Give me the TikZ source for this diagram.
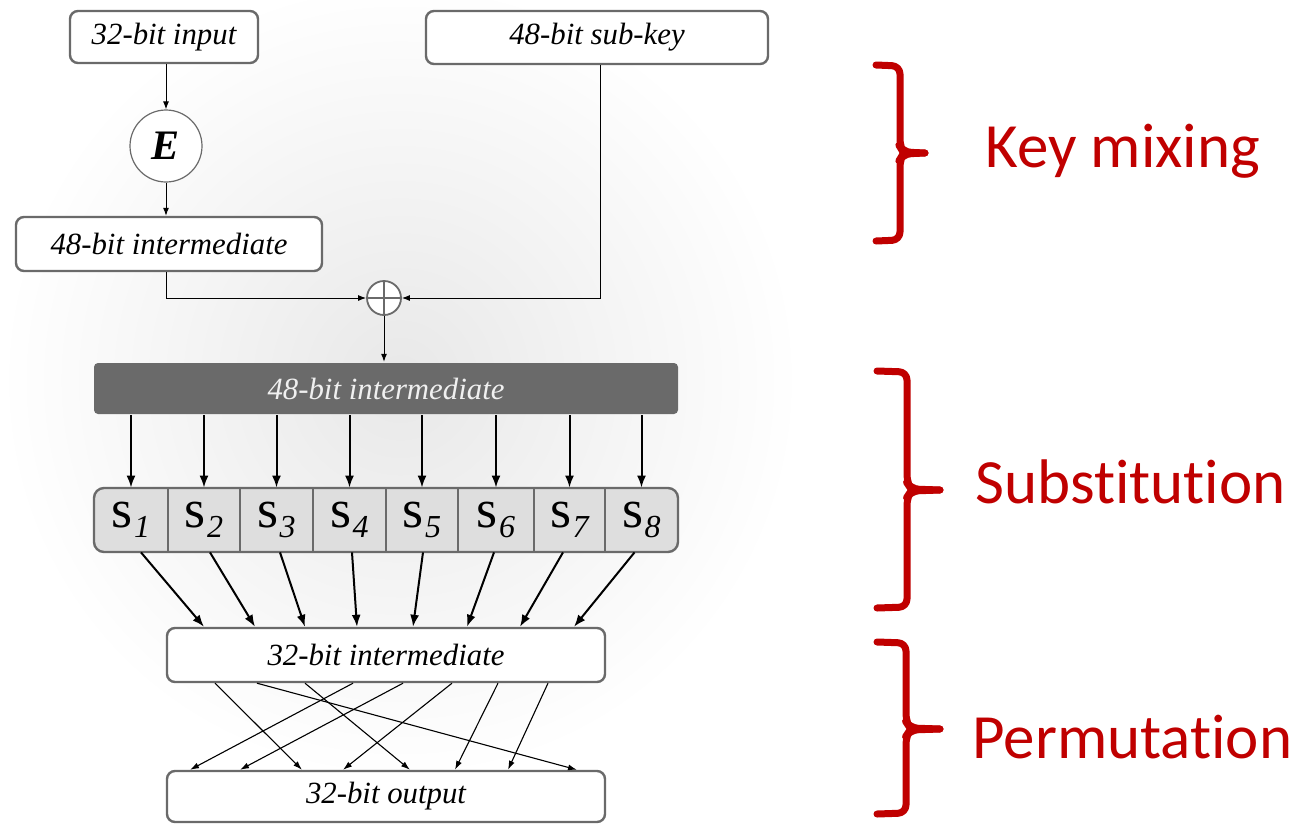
\documentclass[tikz,border=0pt]{standalone}
\usepackage{fontspec}
\setmainfont{Liberation Serif}
\newfontfamily\calfont[Ligatures=NoCommon]{Carlito}
\usetikzlibrary{arrows.meta,calc}
\definecolor{bracered}{HTML}{C00000}
\definecolor{framegray}{HTML}{6A6A6A}
\newcommand\lblfont{\fontsize{15.4}{18}\selectfont\itshape}
\newcommand\slbl[1]{{\fontsize{27}{27}\selectfont s}\kern0.5pt\raisebox{-5pt}{\fontsize{16}{16}\selectfont\itshape #1}}
\begin{document}
\begin{tikzpicture}[x=0.5pt,y=-0.5pt,
  box/.style={draw=framegray, line width=1.2pt, rounded corners=4pt, fill=white, font=\lblfont, inner sep=0pt},
  arr/.style={draw=black, line width=0.5pt, -{Latex[length=4pt,width=3pt]}},
  sarr/.style={draw=black, line width=1pt, -{Latex[length=6pt,width=4.5pt]}},
  parr/.style={draw=black, line width=0.55pt, -{Latex[length=4.5pt,width=3pt]}},
  cell/.style={inner sep=0pt, minimum height=32pt},
  brace/.style={draw=bracered, line width=3.5pt, line cap=round, line join=round, rounded corners=4pt},
  phase/.style={text=bracered, font=\calfont\fontsize{31.5}{36}\selectfont, anchor=base west, inner sep=0pt}]
\useasboundingbox (0,0) rectangle (1307,825);
\fill[white] (0,0) rectangle (1307,825);
\shade[inner color=black!9, outer color=white] (400,380) circle [radius=200pt];

% top part
\node[box, minimum width=94pt, minimum height=26pt] (in) at (164,37) {32-bit input};
\node[box, minimum width=171pt, minimum height=26.5pt] (key) at (597,37.5) {48-bit sub-key};
\node[circle, draw=framegray, line width=0.6pt, fill=white, minimum size=36pt, inner sep=0pt,
      font=\fontsize{21}{21}\selectfont\bfseries\itshape] (E) at (166,146) {E};
\node[box, minimum width=153pt, minimum height=27pt] (mid48) at (169,244) {48-bit intermediate};
\node[circle, draw=framegray, line width=0.9pt, fill=white, minimum size=17pt, inner sep=0pt] (xor) at (384,298) {};
\draw[framegray, line width=0.6pt] (xor.north) -- (xor.south) (xor.west) -- (xor.east);
\node[box, draw=none, fill=framegray, rounded corners=2pt, minimum width=292pt, minimum height=25.5pt,
      text=white!94!black] (bar) at (386,388.5) {48-bit intermediate};

\draw[arr] (in.south -| E) -- (E.north);
\draw[arr] (E.south) -- (mid48.north -| E);
\draw[arr] (mid48.south -| E) |- (xor.west);
\draw[arr] ([xshift=1.5pt]key.south) |- (xor.east);
\draw[arr] (xor.south) -- (bar.north -| xor);

% S-boxes
\draw[fill=black!13, draw=framegray, line width=1.2pt, rounded corners=5pt] (94,488) rectangle (678,552);
\foreach \x in {168,240,313,386,458,534,605}
  \draw[framegray, line width=0.6pt] (\x,488) -- (\x,552);
\foreach \i/\c in {1/131,2/204,3/276.5,4/349.5,5/422,6/496,7/569.5,8/641.5}
  \node[cell] (s\i) at (\c,520) {\slbl{\i}};
\foreach \i in {1,...,8}
  \draw[sarr] (bar.south -| s\i) -- (s\i.north);

% 32-bit intermediate and output
\node[box, minimum width=219pt, minimum height=27pt] (mid32) at (386,655) {32-bit intermediate};
\node[box, minimum width=219pt, minimum height=25.5pt] (out) at (386,796.5) {32-bit output};

\foreach \i/\a/\b in {1/5/-91, 2/3/-65.5, 3/1.75/-40.5, 4/1.25/-14.5, 5/0.5/13.5, 6/-1/40.5, 7/-3.25/67, 8/-3.5/94}
  \draw[sarr] ([xshift=\a pt]s\i.south) -- ([xshift=\b pt]mid32.north);

\foreach \a/\b in {-85.5/-42, -64.5/95.5, -40.5/12, -16.5/-98, 8.5/-73, 33/-21.5, 56/34.5, 81/61}
  \draw[parr] ([xshift=\a pt]mid32.south) -- ([xshift=\b pt]out.north);

% braces
\draw[brace] (876,65) -- (900,66) -- (900,147) -- (903,152) -- (925,153);
\draw[brace] (925,153) -- (903,154) -- (900,159) -- (900,240) -- (876,241);
\draw[brace] (877,371) -- (907,372) -- (907,483) -- (911,489) -- (940,490);
\draw[brace] (940,490) -- (911,491) -- (907,497) -- (907,607) -- (877,608);
\draw[brace] (877,642) -- (906,643) -- (906,722) -- (910,728) -- (940,729);
\draw[brace] (940,729) -- (910,730) -- (906,736) -- (906,813) -- (877,814);

\node[phase] (kmix) at (985,167) {Key mixing};
\node[phase] (subst) at (975,503) {Substitution};
\node[phase] (perm) at (972,758) {Permutation};
\end{tikzpicture}
\end{document}
